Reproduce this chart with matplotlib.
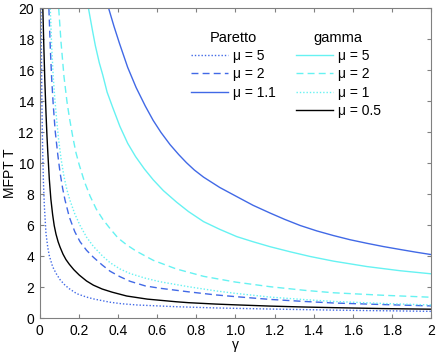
# -*- coding:utf-8 -*-
"""MFPT T against gamma, Pareto and gamma distributions"""
import matplotlib
matplotlib.use('Agg')
import matplotlib.pyplot as plt
from matplotlib.lines import Line2D

plt.rcParams['font.family'] = ['Liberation Sans', 'DejaVu Sans']
plt.rcParams['font.size'] = 10

# values (gamma, T)
par5_g = [0.008, 0.012, 0.016, 0.02, 0.025, 0.033, 0.042, 0.05, 0.067, 0.085, 0.105, 0.13, 0.152,
          0.19, 0.24, 0.28, 0.36, 0.42, 0.5, 0.697, 0.9, 1.177, 1.5, 2.0]
par5_t = [20.0, 14.0, 10.9, 8.8, 7.2, 5.5, 4.6, 4.05, 3.34, 2.9, 2.5, 2.15, 1.92,
          1.6, 1.38, 1.25, 1.05, 0.95, 0.87, 0.76, 0.68, 0.61, 0.54, 0.46]

par2_g = [0.048, 0.055, 0.062, 0.07, 0.08, 0.093, 0.105, 0.118, 0.13, 0.152, 0.18, 0.207, 0.24,
          0.275, 0.32, 0.36, 0.41, 0.462, 0.54, 0.615, 0.76, 0.9, 1.0, 1.177, 1.35, 1.5, 1.75, 2.0]
par2_t = [20.0, 17.5, 15.5, 13.8, 12.1, 10.6, 9.4, 8.4, 7.65, 6.55, 5.6, 4.95, 4.4,
          3.95, 3.45, 3.05, 2.7, 2.4, 2.1, 1.95, 1.72, 1.52, 1.41, 1.23, 1.1, 1.0, 0.9, 0.81]

par11_g = [0.353, 0.38, 0.408, 0.45, 0.493, 0.54, 0.58, 0.62, 0.666, 0.71, 0.75, 0.79, 0.837,
           0.92, 1.007, 1.09, 1.177, 1.25, 1.33, 1.415, 1.5, 1.585, 1.671, 1.755, 1.841, 1.92, 2.0]
par11_t = [20.0, 18.85, 17.75, 16.2, 14.9, 13.7, 12.78, 12.0, 11.22, 10.58, 10.05, 9.58, 9.12,
           8.45, 7.86, 7.3, 6.8, 6.4, 6.0, 5.65, 5.35, 5.08, 4.85, 4.64, 4.45, 4.28, 4.12]

gam5_g = [0.25, 0.27, 0.285, 0.305, 0.323, 0.345, 0.374, 0.41, 0.45, 0.49, 0.535, 0.58, 0.632,
          0.7, 0.76, 0.837, 0.92, 1.007, 1.09, 1.177, 1.28, 1.381, 1.5, 1.671, 1.841, 2.0]
gam5_t = [20.0, 18.6, 17.6, 16.5, 15.7, 14.6, 13.6, 12.4, 11.3, 10.45, 9.65, 8.95, 8.25,
          7.5, 6.9, 6.25, 5.75, 5.28, 4.95, 4.63, 4.3, 4.0, 3.7, 3.35, 3.08, 2.88]

gam2_g = [0.098, 0.11, 0.125, 0.14, 0.152, 0.17, 0.186, 0.203, 0.23, 0.258, 0.29, 0.323, 0.36,
          0.4, 0.445, 0.493, 0.581, 0.697, 0.837, 1.0, 1.177, 1.35, 1.5, 1.75, 2.0]
gam2_t = [20.0, 17.8, 15.6, 14.0, 13.0, 11.7, 10.7, 9.9, 8.8, 7.9, 7.05, 6.4, 5.8,
          5.2, 4.75, 4.35, 3.75, 3.2, 2.72, 2.35, 2.05, 1.82, 1.66, 1.5, 1.37]

gam1_g = [0.055, 0.062, 0.07, 0.078, 0.087, 0.097, 0.11, 0.125, 0.14, 0.156, 0.18, 0.207, 0.24,
          0.275, 0.32, 0.36, 0.41, 0.462, 0.54, 0.615, 0.76, 0.9, 1.0, 1.177, 1.35, 1.5, 1.75, 2.0]
gam1_t = [20.0, 17.6, 15.6, 14.2, 12.9, 11.6, 10.3, 9.15, 8.3, 7.6, 6.75, 6.0, 5.25,
          4.65, 4.05, 3.6, 3.2, 2.9, 2.6, 2.37, 2.05, 1.78, 1.62, 1.38, 1.22, 1.1, 0.97, 0.87]

gam05_g = [0.017, 0.022, 0.027, 0.033, 0.038, 0.042, 0.05, 0.058, 0.067, 0.075, 0.084, 0.095, 0.105,
           0.12, 0.135, 0.152, 0.175, 0.203, 0.24, 0.275, 0.32, 0.37, 0.445, 0.55, 0.697, 0.76,
           0.9, 1.0, 1.177, 1.35, 1.5, 1.75, 2.0]
gam05_t = [20.0, 17.6, 15.4, 13.3, 11.8, 10.8, 9.0, 7.7, 6.7, 6.0, 5.45, 4.95, 4.6,
           4.15, 3.8, 3.5, 3.15, 2.8, 2.42, 2.15, 1.9, 1.7, 1.45, 1.25, 1.08, 1.02,
           0.93, 0.88, 0.8, 0.74, 0.7, 0.64, 0.6]

xticks = [0, 0.2, 0.4, 0.6, 0.8, 1.0, 1.2, 1.4, 1.6, 1.8, 2]
xticklabels = ['0', '0.2', '0.4', '0.6', '0.8', '1.0', '1.2', '1.4', '1.6', '1.8', '2']
yticks = list(range(0, 21, 2))

blue = '#4169e6'
cyan = '#66f2f2'
dot = (0, (1, 1.4))
dash = (0, (5, 3))

fig = plt.figure(figsize=(4.36, 3.52), dpi=100)
ax = fig.add_axes([0.0906, 0.0952, 0.899, 0.8807])

ax.plot(par5_g, par5_t, color=blue, ls=dot, lw=1)
ax.plot(par2_g, par2_t, color=blue, ls=dash, lw=1)
ax.plot(par11_g, par11_t, color=blue, ls='-', lw=1)
ax.plot(gam5_g, gam5_t, color=cyan, ls='-', lw=1)
ax.plot(gam2_g, gam2_t, color=cyan, ls=dash, lw=1)
ax.plot(gam1_g, gam1_t, color=cyan, ls=dot, lw=1)
ax.plot(gam05_g, gam05_t, color='black', ls='-', lw=1)

ax.set_xlim(0, 2)
ax.set_ylim(0, 20)
ax.set_xticks(xticks)
ax.set_xticklabels(xticklabels)
ax.set_yticks(yticks)
ax.tick_params(direction='in', length=3, top=True, right=True, color='#808080', pad=4)
for s in ax.spines.values():
    s.set_color('#808080')
ax.set_xlabel('γ', labelpad=0)
ax.set_ylabel('MFPT T', va='center')
ax.yaxis.set_label_coords(-0.074, 0.47)

# legends: two columns with titles
h_par = [Line2D([], [], color=blue, ls=dot, lw=1),
         Line2D([], [], color=blue, ls=dash, lw=1),
         Line2D([], [], color=blue, ls='-', lw=1)]
h_gam = [Line2D([], [], color=cyan, ls='-', lw=1),
         Line2D([], [], color=cyan, ls=dash, lw=1),
         Line2D([], [], color=cyan, ls=dot, lw=1),
         Line2D([], [], color='black', ls='-', lw=1)]
kw = dict(frameon=False, loc='upper left', borderpad=0, borderaxespad=0,
          handlelength=2.65, handletextpad=0.35, labelspacing=0.3,
          bbox_transform=fig.transFigure, fontsize=10, title_fontsize=10.5)
leg1 = ax.legend(h_par, ['μ = 5', 'μ = 2', 'μ = 1.1'], title='Paretto',
                 bbox_to_anchor=(191 / 436, 1 - 31 / 352), **kw)
ax.add_artist(leg1)
ax.legend(h_gam, ['μ = 5', 'μ = 2', 'μ = 1', 'μ = 0.5'], title='gamma',
          bbox_to_anchor=(296 / 436, 1 - 31 / 352), **kw)

fig.savefig('out.png', dpi=100)
